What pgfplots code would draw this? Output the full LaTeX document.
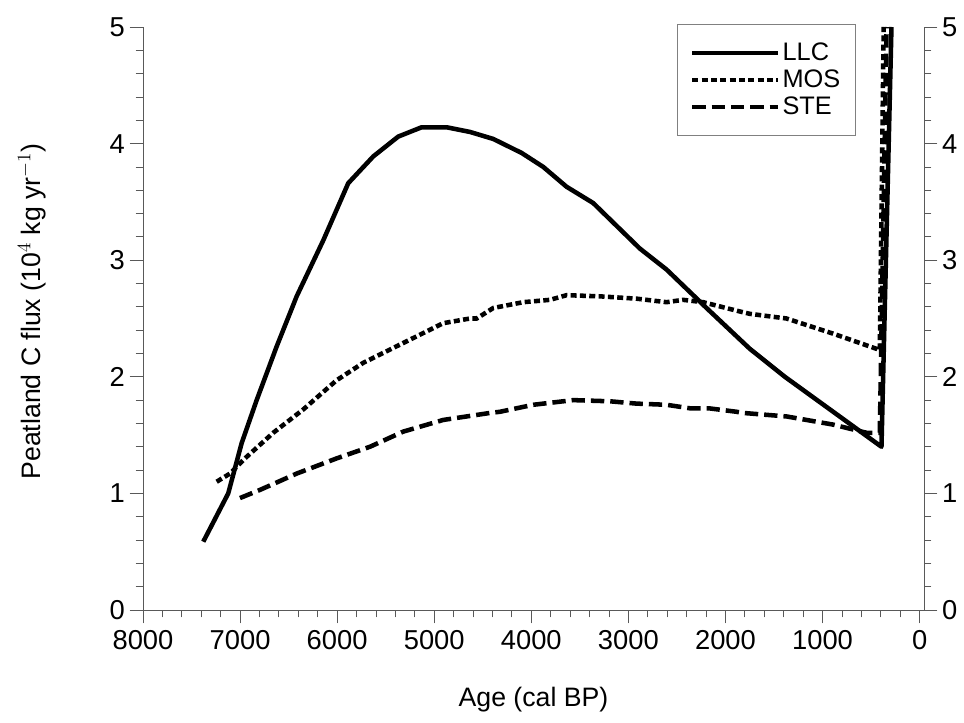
\documentclass[border=0pt]{standalone}
\usepackage{pgfplots}
\pgfplotsset{compat=1.18}
\usepackage{fontspec}
\setmainfont{Liberation Sans}
\begin{document}
\begin{tikzpicture}
\pgfplotsset{
  common/.style={
    scale only axis, width=585.75pt, height=437.25pt,
    xmin=-45, xmax=8000, x dir=reverse, ymin=0, ymax=5,
    /pgf/number format/assume math mode=true,
    /pgf/number format/1000 sep={},
    tick align=outside,
    every tick/.style={gray!70!black, line width=0.6pt},
    major tick length=10pt, minor tick length=5.5pt,
    axis line style={gray!70!black, line width=0.6pt},
    tick label style={font=\fontsize{20.5}{24}\selectfont},
    label style={font=\fontsize{20}{24}\selectfont},
  }
}
\begin{axis}[common, name=ax,
  axis x line*=bottom, axis y line*=left,
  xtick={0,1000,...,8000}, minor x tick num=4,
  ytick={0,1,...,5}, minor y tick num=4,
  xticklabel style={yshift=-2pt},
  xlabel={Age (cal BP)},
  ylabel={Peatland C flux (10$^4$ kg yr$^{-1}$)},
  xlabel style={at={(axis description cs:0.5,-0.1544)}, anchor=center},
  ylabel style={at={(axis description cs:-0.1421,0.512)}, anchor=center},
  legend style={at={(0.913,1.005)}, anchor=north east, draw=gray, line width=0.6pt,
    font=\fontsize{19}{21}\selectfont, inner xsep=9.5pt, inner ysep=12pt, row sep=1.5pt, fill=white},
  legend cell align=left,
  legend image code/.code={\draw[#1] (0pt,0pt) -- (64pt,0pt);},
]
\addplot[black, no markers, solid, line width=3.4pt, line join=round] coordinates {
(7379,0.586) (7122,1.00) (6984,1.43) (6829,1.80) (6623,2.26) (6417,2.69)
(6143,3.17) (5886,3.66) (5628,3.89) (5371,4.06) (5130,4.14) (4872,4.14)
(4632,4.10) (4392,4.04) (4100,3.92) (3877,3.80) (3637,3.63) (3362,3.49)
(2882,3.10) (2607,2.92) (2195,2.59) (1749,2.24) (1388,2.00) (393,1.40) (290,5.0)
};
\addlegendentry{LLC}
\addplot[black, no markers, line width=3.4pt, line cap=butt, dash pattern=on 4.5pt off 2.5pt] coordinates {
(7241,1.10) (7104,1.17) (6950,1.30) (6658,1.52) (6349,1.72) (6006,1.97)
(5731,2.12) (5319,2.29) (4907,2.46) (4632,2.50) (4563,2.50) (4392,2.59)
(4083,2.64) (3808,2.66) (3637,2.70) (3293,2.69) (2915,2.67) (2607,2.64)
(2436,2.66) (2230,2.64) (1851,2.56) (1749,2.54) (1371,2.50) (891,2.37)
(410,2.23) (370,5.0)
};
\addlegendentry{MOS}
\addplot[black, no markers, line width=3.4pt, line cap=butt, dash pattern=on 10pt off 4.5pt] coordinates {
(7001,0.96) (6795,1.03) (6417,1.17) (6006,1.30) (5662,1.40) (5319,1.53)
(4907,1.63) (4426,1.69) (4323,1.70) (3980,1.76) (3568,1.80) (3190,1.79)
(2915,1.77) (2607,1.76) (2367,1.73) (2174,1.73) (1886,1.70) (1817,1.69)
(1371,1.66) (891,1.59) (547,1.52) (410,1.52) (340,5.0)
};
\addlegendentry{STE}
\end{axis}
\begin{axis}[common,
  axis x line=none, axis y line*=right,
  ytick={0,1,...,5}, minor y tick num=4,
]
\end{axis}
\pgfresetboundingbox
\path (ax.south west) ++(-107.25pt,-84pt) rectangle ++(723pt,541.5pt);
\end{tikzpicture}
\end{document}
